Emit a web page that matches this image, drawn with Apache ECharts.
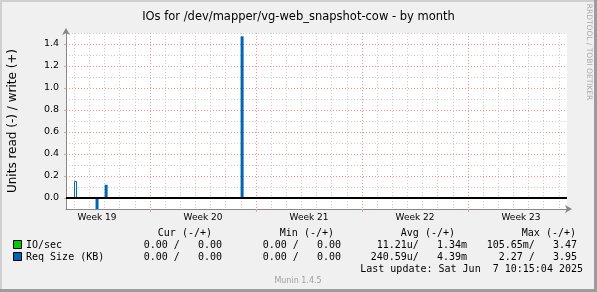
<!DOCTYPE html>
<html><head><meta charset="utf-8">
<script src="https://cdn.jsdelivr.net/npm/echarts@6/dist/echarts.min.js"></script>
<style>html,body{margin:0;padding:0;background:#f0f0f0}#c{width:597px;height:292px}</style>
</head><body><div id="c"></div>
<script>
const TITLE = 'IOs for /dev/mapper/vg-web_snapshot-cow - by month';
const Y_NAME = 'Units read (-) / write (+)';
// x = days since Monday 2025-05-05 (start of Week 19)
const X_MIN = -5.55, X_MAX = 27.54;
const WEEK_LABELS = ['Week 19', 'Week 20', 'Week 21', 'Week 22', 'Week 23'];
const WEEK_MIDS = [-3.5, 3.5, 10.5, 17.5, 24.5];
const WEEK_BOUNDS = [0, 7, 14, 21];
const DAY_LINES = [-5, -4, -3, -2, -1, 1, 2, 3, 4, 5, 6, 8, 9, 10, 11, 12, 13, 15, 16, 17, 18, 19, 20, 22, 23, 24, 25, 26, 27];
const Y_MIN = -0.1, Y_MAX = 1.5;
const Y_MAJOR = [0, 0.2, 0.4, 0.6, 0.8, 1.0, 1.2, 1.4];
const Y_MINOR = [0.1, 0.3, 0.5, 0.7, 0.9, 1.1, 1.3, 1.5];

// Req Size (KB) spikes [day, value]
const REQ_WRITE = [[-2.9, 0.12], [6.08, 1.47]];
const REQ_READ = [[-3.5, -0.12]];
const REQ_OUTLINE = [[-4.92, 0.155]];

const LEG_NAMES = ['IO/sec', 'Req Size (KB)'];
const LEG_COLORS = ['#00cc00', '#0066b3'];
const COL_HEADERS = ['Cur (-/+)', 'Min (-/+)', 'Avg (-/+)', 'Max (-/+)'];
const CUR = [['0.00', '0.00'], ['0.00', '0.00']];
const MIN = [['0.00', '0.00'], ['0.00', '0.00']];
const AVG = [['11.21u', '1.34m'], ['240.59u', '4.39m']];
const MAX = [['105.65m', '3.47'], ['2.27', '3.95']];
const LAST_UPDATE = 'Last update: Sat Jun  7 10:15:04 2025';
const FOOTER = 'Munin 1.4.5';
const SIDE_TEXT = 'RRDTOOL / TOBI OETIKER';

const BLUE = '#0066b3';
const MONO = '"DejaVu Sans Mono", monospace';
const SANS = '"DejaVu Sans", sans-serif';

function sfx(v) { return /[a-zA-Z]$/.test(v) ? v : v + ' '; }
function cell(pair) {
  const r = sfx(pair[0]);
  const wNum = pair[1].replace(/[a-zA-Z]$/, '');
  const wS = pair[1].slice(wNum.length) || ' ';
  return r + '/' + wNum.padStart(7, ' ') + wS;
}

const COL_RIGHT = [228, 347, 467, 583];
const HDR_RIGHT = [212, 334, 455, 576];
const ROW_Y = [245, 257];

const graphics = [];
graphics.push({type: 'rect', shape: {x: 0, y: 0, width: 2, height: 292}, style: {fill: '#cfcfcf'}, silent: true});
graphics.push({type: 'rect', shape: {x: 0, y: 0, width: 597, height: 2}, style: {fill: '#cfcfcf'}, silent: true});
graphics.push({type: 'rect', shape: {x: 594, y: 0, width: 3, height: 292}, style: {fill: '#9c9c9c'}, silent: true});
graphics.push({type: 'rect', shape: {x: 0, y: 289, width: 597, height: 3}, style: {fill: '#9c9c9c'}, silent: true});
graphics.push({type: 'text', x: 589, y: 52, rotation: -Math.PI / 2,
  style: {text: SIDE_TEXT, font: '7.5px ' + SANS, fill: '#aaaaaa', textAlign: 'center', textVerticalAlign: 'middle'}, silent: true});
COL_HEADERS.forEach((h, i) => graphics.push({type: 'text', x: HDR_RIGHT[i], y: 233,
  style: {text: h, font: '10px ' + MONO, fill: '#000', textAlign: 'right', textVerticalAlign: 'middle'}}));
LEG_NAMES.forEach((n, r) => {
  graphics.push({type: 'rect', shape: {x: 13.5, y: ROW_Y[r] - 4.5, width: 8, height: 8},
    style: {fill: LEG_COLORS[r], stroke: '#000', lineWidth: 1}});
  graphics.push({type: 'text', x: 26, y: ROW_Y[r],
    style: {text: n, font: '10px ' + MONO, fill: '#000', textAlign: 'left', textVerticalAlign: 'middle'}});
  [CUR, MIN, AVG, MAX].forEach((col, c) => graphics.push({type: 'text', x: COL_RIGHT[c], y: ROW_Y[r],
    style: {text: cell(col[r]), font: '10px ' + MONO, fill: '#000', textAlign: 'right', textVerticalAlign: 'middle'}}));
});
graphics.push({type: 'text', x: 583, y: 269,
  style: {text: LAST_UPDATE, font: '10px ' + MONO, fill: '#000', textAlign: 'right', textVerticalAlign: 'middle'}});
graphics.push({type: 'text', x: 298, y: 281,
  style: {text: FOOTER, font: '8px ' + SANS, fill: '#a0a0a0', textAlign: 'center', textVerticalAlign: 'middle'}});

const chart = echarts.init(document.getElementById('c'), null, {renderer: 'canvas'});
const gridLine = (c) => ({show: true, lineStyle: {color: c, width: 1, type: [1, 2]}});
chart.setOption({
  animation: false,
  backgroundColor: '#f0f0f0',
  title: {text: TITLE, left: 'center', top: 6, textStyle: {fontFamily: SANS, fontSize: 11.5, fontWeight: 'normal', color: '#000'}},
  grid: {left: 66, right: 30, top: 33, bottom: 83, show: true, backgroundColor: '#ffffff', borderWidth: 0,
         containLabel: false, outerBoundsMode: 'none'},
  xAxis: [
    {type: 'value', min: X_MIN, max: X_MAX, axisLine: {show: false}, axisLabel: {show: false},
     axisTick: {show: false, customValues: DAY_LINES}, splitLine: gridLine('#cccccc')},
    {type: 'value', min: X_MIN, max: X_MAX, position: 'bottom',
     axisLine: {show: true, onZero: false, symbol: ['none', 'arrow'], symbolSize: [6, 7], symbolOffset: [0, 5], lineStyle: {color: '#888', width: 1}},
     axisTick: {show: true, customValues: WEEK_BOUNDS, length: 3, lineStyle: {color: '#e8a0a0'}},
     axisLabel: {show: true, customValues: WEEK_MIDS, margin: 4, fontFamily: SANS, fontSize: 9, color: '#000',
       formatter: v => { const i = WEEK_MIDS.findIndex(m => Math.abs(m - v) < 1e-6); return i >= 0 ? WEEK_LABELS[i] : ''; }},
     splitLine: gridLine('#f09090')}
  ],
  yAxis: [
    {type: 'value', min: Y_MIN, max: Y_MAX, axisLine: {show: false}, axisLabel: {show: false},
     axisTick: {show: false, customValues: Y_MINOR}, splitLine: gridLine('#cccccc')},
    {type: 'value', min: Y_MIN, max: Y_MAX, position: 'left',
     name: Y_NAME, nameLocation: 'middle', nameRotate: 90, nameGap: 47,
     nameTextStyle: {fontFamily: SANS, fontSize: 12, color: '#000'},
     axisLine: {show: true, onZero: false, symbol: ['none', 'arrow'], symbolSize: [6, 7], symbolOffset: [0, 5], lineStyle: {color: '#888', width: 1}},
     axisTick: {show: true, customValues: Y_MAJOR, length: 2, lineStyle: {color: '#e8a0a0'}},
     axisLabel: {show: true, customValues: Y_MAJOR, margin: 7, fontFamily: SANS, fontSize: 9.5, color: '#000', formatter: v => v.toFixed(1)},
     splitLine: gridLine('#f09090')}
  ],
  graphic: graphics,
  series: [
    {type: 'bar', name: 'Req Size (KB) write', xAxisIndex: 1, yAxisIndex: 1, data: REQ_WRITE, barWidth: 3, barGap: '-100%',
     itemStyle: {color: BLUE}, clip: true,
     markLine: {silent: true, symbol: ['none', 'none'], label: {show: false}, lineStyle: {color: '#000', width: 2, type: 'solid'},
       data: [{yAxis: 0}]}},
    {type: 'bar', name: 'Req Size (KB) read', xAxisIndex: 1, yAxisIndex: 1, data: REQ_READ, barWidth: 3, barGap: '-100%',
     itemStyle: {color: BLUE}, clip: true},
    {type: 'bar', name: 'Req Size (KB) outline', xAxisIndex: 1, yAxisIndex: 1, data: REQ_OUTLINE, barWidth: 3, barGap: '-100%',
     itemStyle: {color: '#ffffff', borderColor: BLUE, borderWidth: 1}, clip: true}
  ]
});
</script></body></html>
